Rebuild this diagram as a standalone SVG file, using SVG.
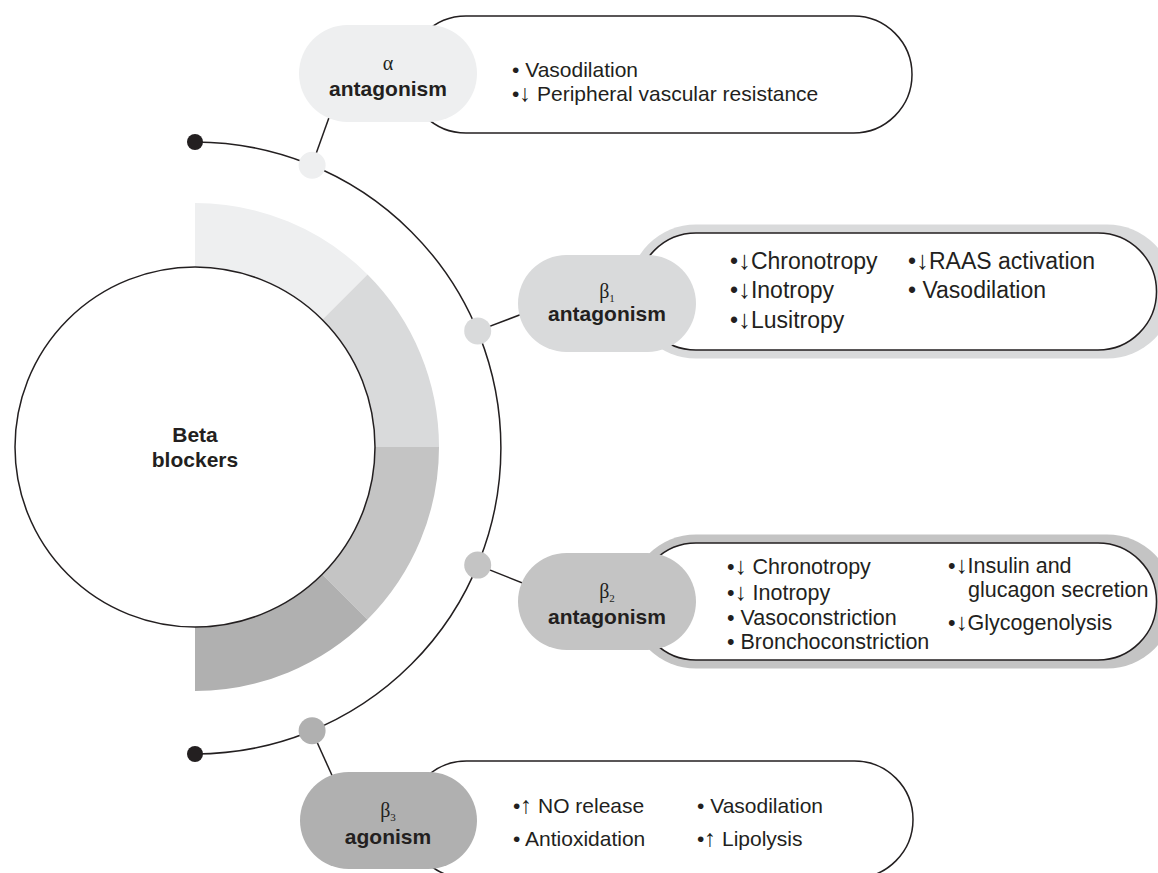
<svg xmlns="http://www.w3.org/2000/svg" width="1158" height="873" viewBox="0 0 1158 873">
<style>
.t{font-family:"Liberation Sans",Arial,sans-serif;font-size:21px;fill:#231f20}
.t1{font-size:23px}
.t2{font-size:21.5px}
.ar{font-size:1.12em}
.b{font-weight:bold;text-anchor:middle}
.g{font-family:"Liberation Serif","Times New Roman",serif;font-size:20px;fill:#231f20;text-anchor:middle}
.sub{font-size:11px}
.ln{stroke:#231f20;stroke-width:1.5;fill:none}
.box{fill:#fff;stroke:#231f20;stroke-width:1.5}
.end{fill:#231f20}
.c1{fill:#eeeff0}.c2{fill:#d9dadb}.c3{fill:#c4c4c4}.c4{fill:#b0b0b0}
</style>
<rect width="1158" height="873" fill="#fff"/>
<g id="center">
<path class="c1" d="M195,203 A244,244 0 0 1 367.53,274.47 L322.28,319.72 A180,180 0 0 0 195,267 Z"/>
<path class="c2" d="M367.53,274.47 A244,244 0 0 1 439,447 L375,447 A180,180 0 0 0 322.28,319.72 Z"/>
<path class="c3" d="M439,447 A244,244 0 0 1 367.53,619.53 L322.28,574.28 A180,180 0 0 0 375,447 Z"/>
<path class="c4" d="M367.53,619.53 A244,244 0 0 1 195,691 L195,627 A180,180 0 0 0 322.28,574.28 Z"/>
<circle cx="195" cy="447" r="180" class="box"/>
<text class="t b" x="195" y="442">Beta</text>
<text class="t b" x="195" y="467">blockers</text>
</g>
<g id="connectors">
<path class="ln" d="M195,142 A306,306 0 0 1 195,754"/>
<circle class="end" cx="195" cy="142" r="8"/>
<circle class="end" cx="195" cy="754" r="8"/>
<path class="ln" d="M312,165 L331,112"/>
<path class="ln" d="M477.7,330.9 L530,311"/>
<path class="ln" d="M477.7,565.1 L530,586"/>
<path class="ln" d="M312,731 L335,782"/>
</g>
<g id="alpha">
<rect class="box" x="407.5" y="16" width="504.5" height="117" rx="58.5"/>
<rect class="c1" x="299" y="25" width="178" height="97" rx="48.5"/>
<text class="g" x="388" y="70">α</text>
<text class="t b" x="388" y="96">antagonism</text>
<circle class="c1" cx="312.1" cy="165.3" r="13.5"/>
<text class="t" x="512" y="77" xml:space="preserve">• Vasodilation</text>
<text class="t" x="512" y="101" xml:space="preserve">•<tspan class="ar">↓</tspan> Peripheral vascular resistance</text>
</g>
<g id="beta1">
<rect class="c2" x="629" y="224.5" width="545" height="134" rx="67"/>
<rect class="box" x="637.5" y="233" width="519" height="117" rx="58.5"/>
<rect class="c2" x="518" y="255" width="178" height="97" rx="48.5"/>
<text class="g" x="607" y="298">β<tspan class="sub" dy="4">1</tspan></text>
<text class="t b" x="607" y="321">antagonism</text>
<circle class="c2" cx="477.7" cy="330.9" r="13.5"/>
<text class="t t1" x="730" y="269">•<tspan class="ar">↓</tspan>Chronotropy</text>
<text class="t t1" x="730" y="298">•<tspan class="ar">↓</tspan>Inotropy</text>
<text class="t t1" x="730" y="328">•<tspan class="ar">↓</tspan>Lusitropy</text>
<text class="t t1" x="908" y="269">•<tspan class="ar">↓</tspan>RAAS activation</text>
<text class="t t1" x="908" y="298" xml:space="preserve">• Vasodilation</text>
</g>
<g id="beta2">
<rect class="c3" x="629" y="534.5" width="545" height="134" rx="67"/>
<rect class="box" x="637.5" y="543" width="519" height="117" rx="58.5"/>
<rect class="c3" x="518" y="553" width="178" height="97" rx="48.5"/>
<text class="g" x="607" y="598">β<tspan class="sub" dy="4">2</tspan></text>
<text class="t b" x="607" y="624">antagonism</text>
<circle class="c3" cx="477.7" cy="565.1" r="13.5"/>
<text class="t t2" x="727" y="574" xml:space="preserve">•<tspan class="ar">↓</tspan> Chronotropy</text>
<text class="t t2" x="727" y="600" xml:space="preserve">•<tspan class="ar">↓</tspan> Inotropy</text>
<text class="t t2" x="727" y="625" xml:space="preserve">• Vasoconstriction</text>
<text class="t t2" x="727" y="649" xml:space="preserve">• Bronchoconstriction</text>
<text class="t t2" x="948" y="573">•<tspan class="ar">↓</tspan>Insulin and</text>
<text class="t t2" x="968" y="597">glucagon secretion</text>
<text class="t t2" x="948" y="630">•<tspan class="ar">↓</tspan>Glycogenolysis</text>
</g>
<g id="beta3">
<rect class="box" x="408" y="761" width="505" height="117" rx="58.5"/>
<rect class="c4" x="300" y="772" width="177" height="97" rx="48.5"/>
<text class="g" x="388" y="817">β<tspan class="sub" dy="4">3</tspan></text>
<text class="t b" x="388" y="844">agonism</text>
<circle class="c4" cx="312.1" cy="730.7" r="13.5"/>
<text class="t" x="513" y="813" xml:space="preserve">•<tspan class="ar">↑</tspan> NO release</text>
<text class="t" x="513" y="846" xml:space="preserve">• Antioxidation</text>
<text class="t" x="697" y="813" xml:space="preserve">• Vasodilation</text>
<text class="t" x="697" y="846" xml:space="preserve">•<tspan class="ar">↑</tspan> Lipolysis</text>
</g>
</svg>
